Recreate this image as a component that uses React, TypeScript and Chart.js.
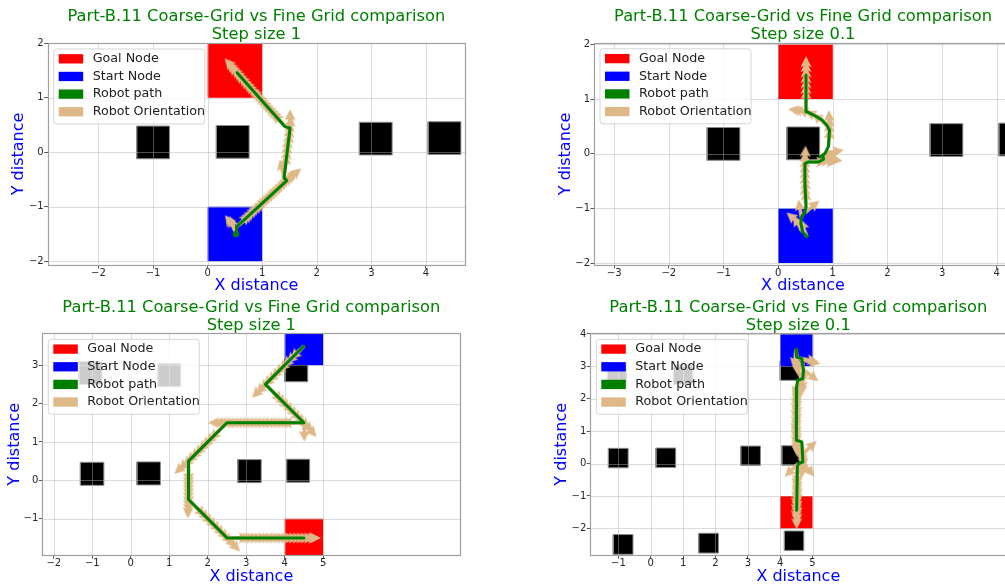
import React, { useEffect, useRef } from 'react';
import { Chart, registerables } from 'chart.js';

Chart.register(...registerables);

const FONT = 'DejaVu Sans';
Chart.defaults.font.family = FONT;

// ---------- text ----------
const TITLE_MAIN = 'Part-B.11 Coarse-Grid vs Fine Grid comparison';
const SUBTITLES = ['Step size 1', 'Step size 0.1', 'Step size 1', 'Step size 0.1'];
const X_LABEL = 'X distance';
const Y_LABEL = 'Y distance';
const LEGEND_LABELS = ['Goal Node', 'Start Node', 'Robot path', 'Robot Orientation'];

// ---------- colours ----------
const GOAL_COLOR = '#ff0000';
const START_COLOR = '#0000ff';
const PATH_COLOR = '#008000';
const ORIENT_COLOR = '#deb887';
const OBSTACLE_COLOR = '#000000';
const LEGEND_COLORS = [GOAL_COLOR, START_COLOR, PATH_COLOR, ORIENT_COLOR];
const TITLE_COLOR = '#008000';
const LABEL_COLOR = '#0000ff';
const GRID_COLOR = 'rgba(176,176,176,0.45)';
const FRAME_COLOR = '#a0a0a0';
const TICK_TEXT_COLOR = '#262626';

// ---------- ticks ----------
const TL_X_TICKS = [-2, -1, 0, 1, 2, 3, 4];
const TL_Y_TICKS = [-2, -1, 0, 1, 2];
const TR_X_TICKS = [-3, -2, -1, 0, 1, 2, 3, 4];
const TR_Y_TICKS = [-2, -1, 0, 1, 2];
const BL_X_TICKS = [-2, -1, 0, 1, 2, 3, 4, 5];
const BL_Y_TICKS = [-1, 0, 1, 2, 3];
const BR_X_TICKS = [-1, 0, 1, 2, 3, 4, 5];
const BR_Y_TICKS = [-2, -1, 0, 1, 2, 3, 4];

// ---------- rectangles [x, y, w, h] ----------
const TOP_GOAL = [0, 1, 1, 1];
const TOP_START = [0, -2, 1, 1];
const TOP_OBSTACLES = [
  [-1.30, -0.12, 0.60, 0.60],
  [0.16, -0.11, 0.60, 0.60],
  [2.78, -0.05, 0.60, 0.60],
  [4.04, -0.04, 0.60, 0.60],
];
const BOTTOM_GOAL = [4, -2, 1, 1];
const BOTTOM_START = [4, 3, 1, 1];
const BOTTOM_OBSTACLES = [
  [-1.35, 2.50, 0.60, 0.60],
  [0.70, 2.44, 0.60, 0.60],
  [-1.31, -0.13, 0.61, 0.60],
  [0.16, -0.12, 0.61, 0.60],
  [2.78, -0.06, 0.61, 0.60],
  [4.05, -0.05, 0.60, 0.60],
  [4.00, 2.57, 0.60, 0.60],
  [-1.16, -2.80, 0.61, 0.61],
  [1.48, -2.76, 0.61, 0.61],
  [4.13, -2.68, 0.60, 0.60],
];

// ---------- robot paths ----------
const TL_PATH_X = [0.52, 0.53, 1.45, 1.40, 1.51, 1.42, 0.54];
const TL_PATH_Y = [-1.50, -1.37, -0.52, -0.47, 0.44, 0.47, 1.46];

const TR_PATH_X = [0.525, 0.45, 0.415, 0.43, 0.49, 0.51, 0.49, 0.49, 0.555, 0.74, 0.83, 0.82, 0.77, 0.86, 0.92, 0.94, 0.89, 0.80, 0.68, 0.585, 0.525, 0.51, 0.51];
const TR_PATH_Y = [-1.52, -1.43, -1.27, -1.15, -1.08, -0.97, -0.54, -0.18, -0.15, -0.15, -0.10, -0.04, -0.06, 0.01, 0.13, 0.43, 0.52, 0.62, 0.69, 0.74, 0.77, 0.98, 1.44];

const BL_PATH_X = [4.5, 3.5, 4.5, 2.5, 1.5, 1.5, 2.5, 4.5];
const BL_PATH_Y = [3.5, 2.5, 1.5, 1.5, 0.5, -0.5, -1.5, -1.5];

const BR_PATH_X = [4.49, 4.51, 4.67, 4.72, 4.70, 4.54, 4.51, 4.49, 4.51, 4.67, 4.70, 4.56, 4.53, 4.51];
const BR_PATH_Y = [3.52, 3.29, 3.24, 2.88, 2.62, 2.57, 2.36, 1.50, 0.72, 0.67, 0.05, 0.00, -0.10, -1.44];

// ---------- robot orientation arrows [x, y, heading in degrees] ----------
const TL_ARROWS = [
  [0.52, -1.50, 110], [0.52, -1.44, 125],
  [0.53, -1.37, 43], [0.58, -1.33, 43], [0.62, -1.29, 43], [0.67, -1.24, 43], [0.71, -1.20, 43], [0.76, -1.16, 43],
  [0.80, -1.12, 43], [0.85, -1.07, 43], [0.90, -1.03, 43], [0.94, -0.99, 43], [0.99, -0.95, 43], [1.04, -0.90, 43],
  [1.08, -0.86, 43], [1.13, -0.82, 43], [1.17, -0.78, 43], [1.22, -0.73, 43], [1.26, -0.69, 43], [1.31, -0.65, 43],
  [1.36, -0.61, 43], [1.40, -0.56, 43], [1.45, -0.52, 40],
  [1.40, -0.47, 103], [1.41, -0.37, 83], [1.42, -0.27, 83], [1.43, -0.17, 83], [1.44, -0.07, 83], [1.46, 0.03, 83],
  [1.47, 0.13, 83], [1.48, 0.23, 83], [1.49, 0.33, 83], [1.51, 0.44, 90],
  [1.42, 0.47, 132], [1.38, 0.52, 132], [1.33, 0.57, 132], [1.29, 0.62, 132], [1.24, 0.67, 132], [1.20, 0.72, 132],
  [1.15, 0.77, 132], [1.11, 0.82, 132], [1.06, 0.87, 132], [1.02, 0.92, 132], [0.98, 0.96, 132], [0.93, 1.01, 132],
  [0.89, 1.06, 132], [0.84, 1.11, 132], [0.80, 1.16, 132], [0.75, 1.21, 132], [0.71, 1.26, 132], [0.67, 1.31, 132],
  [0.62, 1.36, 132], [0.58, 1.41, 132], [0.54, 1.46, 131],
];

const TR_ARROWS = [
  [0.525, -1.52, 110], [0.45, -1.43, 120], [0.42, -1.30, 140], [0.43, -1.18, 100], [0.49, -1.08, 40],
  [0.51, -1.00, 90], [0.50, -0.90, 92], [0.50, -0.80, 90], [0.49, -0.70, 90], [0.49, -0.60, 90],
  [0.49, -0.50, 90], [0.49, -0.40, 90], [0.49, -0.30, 90], [0.49, -0.20, 88],
  [0.555, -0.15, 0], [0.65, -0.15, 5], [0.74, -0.15, 0], [0.83, -0.10, -5], [0.82, -0.04, -15], [0.77, -0.06, 15],
  [0.86, 0.01, 10], [0.92, 0.13, 85], [0.93, 0.25, 88], [0.94, 0.35, 90], [0.94, 0.45, 92],
  [0.89, 0.52, 140], [0.80, 0.62, 150], [0.68, 0.69, 158], [0.585, 0.74, 165], [0.525, 0.77, 172],
  [0.51, 0.85, 90], [0.51, 0.95, 90], [0.51, 1.05, 90], [0.51, 1.15, 90], [0.51, 1.25, 90], [0.51, 1.35, 90], [0.51, 1.44, 90],
];

const BL_ARROWS = [
  [4.5, 3.5, 225], [4.4, 3.4, 225], [4.3, 3.3, 225], [4.2, 3.2, 225], [4.1, 3.1, 225], [4.0, 3.0, 225],
  [3.9, 2.9, 225], [3.8, 2.8, 225], [3.7, 2.7, 225], [3.6, 2.6, 225], [3.5, 2.5, 225],
  [3.6, 2.4, 315], [3.7, 2.3, 315], [3.8, 2.2, 315], [3.9, 2.1, 315], [4.0, 2.0, 315],
  [4.1, 1.9, 315], [4.2, 1.8, 315], [4.3, 1.7, 315], [4.4, 1.6, 315], [4.5, 1.5, 312], [4.5, 1.5, 272],
  [4.4, 1.5, 180], [4.3, 1.5, 180], [4.2, 1.5, 180], [4.1, 1.5, 180], [4.0, 1.5, 180], [3.9, 1.5, 180], [3.8, 1.5, 180],
  [3.7, 1.5, 180], [3.6, 1.5, 180], [3.5, 1.5, 180], [3.4, 1.5, 180], [3.3, 1.5, 180], [3.2, 1.5, 180], [3.1, 1.5, 180],
  [3.0, 1.5, 180], [2.9, 1.5, 180], [2.8, 1.5, 180], [2.7, 1.5, 180], [2.6, 1.5, 180], [2.5, 1.5, 180],
  [2.4, 1.4, 225], [2.3, 1.3, 225], [2.2, 1.2, 225], [2.1, 1.1, 225], [2.0, 1.0, 225],
  [1.9, 0.9, 225], [1.8, 0.8, 225], [1.7, 0.7, 225], [1.6, 0.6, 225], [1.5, 0.5, 222],
  [1.5, 0.4, 270], [1.5, 0.3, 270], [1.5, 0.2, 270], [1.5, 0.1, 270], [1.5, 0.0, 270],
  [1.5, -0.1, 270], [1.5, -0.2, 270], [1.5, -0.3, 270], [1.5, -0.4, 270], [1.5, -0.5, 268],
  [1.6, -0.6, 315], [1.7, -0.7, 315], [1.8, -0.8, 315], [1.9, -0.9, 315], [2.0, -1.0, 315],
  [2.1, -1.1, 315], [2.2, -1.2, 315], [2.3, -1.3, 315], [2.4, -1.4, 315], [2.5, -1.5, 314],
  [2.6, -1.5, 0], [2.7, -1.5, 0], [2.8, -1.5, 0], [2.9, -1.5, 0], [3.0, -1.5, 0], [3.1, -1.5, 0], [3.2, -1.5, 0],
  [3.3, -1.5, 0], [3.4, -1.5, 0], [3.5, -1.5, 0], [3.6, -1.5, 0], [3.7, -1.5, 0], [3.8, -1.5, 0], [3.9, -1.5, 0],
  [4.0, -1.5, 0], [4.1, -1.5, 0], [4.2, -1.5, 0], [4.3, -1.5, 0], [4.4, -1.5, 0], [4.45, -1.5, 0],
];

const BR_ARROWS = [
  [4.49, 3.52, 265], [4.50, 3.45, 270], [4.51, 3.38, 270], [4.51, 3.29, 275], [4.60, 3.25, -10], [4.67, 3.20, -12],
  [4.70, 3.10, 270], [4.71, 3.00, 268], [4.72, 2.90, -38], [4.71, 2.78, 265], [4.70, 2.66, 265], [4.60, 2.60, 250],
  [4.53, 2.50, 270], [4.51, 2.40, 272], [4.51, 2.30, 268], [4.50, 2.20, 272], [4.50, 2.10, 268], [4.50, 2.00, 272],
  [4.50, 1.90, 268], [4.50, 1.80, 272], [4.50, 1.70, 268], [4.49, 1.60, 272], [4.49, 1.50, 268], [4.49, 1.40, 272],
  [4.50, 1.30, 268], [4.50, 1.20, 272], [4.50, 1.10, 268], [4.50, 1.00, 272], [4.51, 0.90, 268], [4.51, 0.80, 272],
  [4.55, 0.72, 280], [4.67, 0.62, 270], [4.68, 0.52, 272], [4.69, 0.42, 275], [4.70, 0.30, 43], [4.70, 0.22, 268],
  [4.70, 0.12, 265], [4.68, 0.05, -50], [4.56, 0.00, 224], [4.53, -0.10, 270],
  [4.52, -0.20, 268], [4.52, -0.30, 272], [4.52, -0.40, 268], [4.52, -0.50, 272], [4.52, -0.60, 268], [4.52, -0.70, 272],
  [4.51, -0.80, 268], [4.51, -0.90, 272], [4.51, -1.00, 268], [4.51, -1.10, 272], [4.51, -1.20, 268], [4.51, -1.30, 272],
  [4.51, -1.44, 270],
];

// ---------- layout of the four subplots ----------
type Spec = {
  left: number; top: number; width: number; height: number;
  pad: { left: number; right: number; top: number; bottom: number };
  yAxisWidth: number; xAxisHeight: number; titleBottomPad: number;
  xMin: number; xMax: number; yMin: number; yMax: number;
  xTicks: number[]; yTicks: number[]; subtitle: string;
  goal: number[]; start: number[]; obstacles: number[][];
  pathX: number[]; pathY: number[]; arrows: number[][]; startDot: boolean;
};

const SPECS: Spec[] = [
  {
    left: 0, top: 0, width: 500, height: 300,
    pad: { left: 9.4, right: 35, top: 7.65, bottom: 5 }, yAxisWidth: 38.3, xAxisHeight: 30, titleBottomPad: -1.25,
    xMin: -2.93, xMax: 4.715, yMin: -2.07, yMax: 2.005, xTicks: TL_X_TICKS, yTicks: TL_Y_TICKS, subtitle: SUBTITLES[0],
    goal: TOP_GOAL, start: TOP_START, obstacles: TOP_OBSTACLES, pathX: TL_PATH_X, pathY: TL_PATH_Y, arrows: TL_ARROWS, startDot: true,
  },
  {
    left: 505, top: 0, width: 530, height: 300,
    pad: { left: 51.4, right: 23, top: 7.65, bottom: 5 }, yAxisWidth: 37.6, xAxisHeight: 30, titleBottomPad: -1.45,
    xMin: -3.37, xMax: 4.28, yMin: -2.036, yMax: 2.03, xTicks: TR_X_TICKS, yTicks: TR_Y_TICKS, subtitle: SUBTITLES[1],
    goal: TOP_GOAL, start: TOP_START, obstacles: TOP_OBSTACLES, pathX: TR_PATH_X, pathY: TR_PATH_Y, arrows: TR_ARROWS, startDot: false,
  },
  {
    left: 0, top: 292, width: 500, height: 296,
    pad: { left: 4.9, right: 39.7, top: 6.65, bottom: 1.9 }, yAxisWidth: 37.4, xAxisHeight: 30.8, titleBottomPad: -1.95,
    xMin: -2.30, xMax: 8.565, yMin: -1.954, yMax: 3.832, xTicks: BL_X_TICKS, yTicks: BL_Y_TICKS, subtitle: SUBTITLES[2],
    goal: BOTTOM_GOAL, start: BOTTOM_START, obstacles: BOTTOM_OBSTACLES, pathX: BL_PATH_X, pathY: BL_PATH_Y, arrows: BL_ARROWS, startDot: false,
  },
  {
    left: 505, top: 292, width: 530, height: 296,
    pad: { left: 47.4, right: 28.7, top: 6.65, bottom: 1.9 }, yAxisWidth: 37.9, xAxisHeight: 30.8, titleBottomPad: -1.95,
    xMin: -1.87, xMax: 10.99, yMin: -2.83, yMax: 4.02, xTicks: BR_X_TICKS, yTicks: BR_Y_TICKS, subtitle: SUBTITLES[3],
    goal: BOTTOM_GOAL, start: BOTTOM_START, obstacles: BOTTOM_OBSTACLES, pathX: BR_PATH_X, pathY: BR_PATH_Y, arrows: BR_ARROWS, startDot: false,
  },
];

// ---------- helpers ----------
function makeArrowSprite(): HTMLCanvasElement {
  const L = 19, hl = 11, hw = 11, sw = 3.5;
  const c = document.createElement('canvas');
  c.width = 2 * L;
  c.height = hw + 3;
  const g = c.getContext('2d') as CanvasRenderingContext2D;
  const cy = c.height / 2;
  g.fillStyle = ORIENT_COLOR;
  g.beginPath();
  g.moveTo(L, cy - sw / 2);
  g.lineTo(2 * L - hl * 0.88, cy - sw / 2);
  g.lineTo(2 * L - hl, cy - hw / 2);
  g.lineTo(2 * L, cy);
  g.lineTo(2 * L - hl, cy + hw / 2);
  g.lineTo(2 * L - hl * 0.88, cy + sw / 2);
  g.lineTo(L, cy + sw / 2);
  g.closePath();
  g.fill();
  return c;
}

function rectPoints(r: number[]) {
  const [x, y, w, h] = r;
  return [{ x, y }, { x: x + w, y }, { x: x + w, y: y + h }, { x, y: y + h }, { x, y }];
}

function rectDataset(r: number[], color: string, order: number, outlined: boolean, label: string) {
  return {
    type: 'line', label, data: rectPoints(r), fill: 'shape', backgroundColor: color,
    borderColor: outlined ? '#8a8a8a' : color, borderWidth: outlined ? 1 : 0,
    pointRadius: 0, tension: 0, order, showLine: true,
  };
}

const fmt = (v: number) => (v < 0 ? '\u2212' + String(-v) : String(v));

const overlayPlugin = {
  id: 'overlay',
  beforeDatasetDraw(chart: any, args: any) {
    const ds = chart.data.datasets[args.index];
    if (!ds || !ds.isArrows) return;
    const { ctx, chartArea: a, scales } = chart;
    ctx.save();
    ctx.beginPath();
    ctx.rect(a.left, a.top, a.right - a.left, a.bottom - a.top);
    ctx.clip();
    ctx.strokeStyle = GRID_COLOR;
    ctx.lineWidth = 1;
    for (const t of scales.x.ticks) {
      const px = Math.round(scales.x.getPixelForValue(t.value)) + 0.5;
      ctx.beginPath(); ctx.moveTo(px, a.top); ctx.lineTo(px, a.bottom); ctx.stroke();
    }
    for (const t of scales.y.ticks) {
      const py = Math.round(scales.y.getPixelForValue(t.value)) + 0.5;
      ctx.beginPath(); ctx.moveTo(a.left, py); ctx.lineTo(a.right, py); ctx.stroke();
    }
    ctx.restore();
  },
  afterDatasetsDraw(chart: any) {
    const { ctx, chartArea: a } = chart;
    ctx.save();
    // frame (spines)
    ctx.strokeStyle = FRAME_COLOR;
    ctx.lineWidth = 1.2;
    ctx.strokeRect(Math.round(a.left) + 0.5, Math.round(a.top) + 0.5, Math.round(a.right - a.left), Math.round(a.bottom - a.top));
    // legend
    const lx = a.left + 6, ly = a.top + 6, w = 151, h = 75, r = 3;
    ctx.beginPath();
    ctx.moveTo(lx + r, ly);
    ctx.lineTo(lx + w - r, ly); ctx.quadraticCurveTo(lx + w, ly, lx + w, ly + r);
    ctx.lineTo(lx + w, ly + h - r); ctx.quadraticCurveTo(lx + w, ly + h, lx + w - r, ly + h);
    ctx.lineTo(lx + r, ly + h); ctx.quadraticCurveTo(lx, ly + h, lx, ly + h - r);
    ctx.lineTo(lx, ly + r); ctx.quadraticCurveTo(lx, ly, lx + r, ly);
    ctx.closePath();
    ctx.fillStyle = 'rgba(255,255,255,0.8)';
    ctx.fill();
    ctx.strokeStyle = 'rgba(204,204,204,0.8)';
    ctx.lineWidth = 1;
    ctx.stroke();
    ctx.font = `12.7px "${FONT}"`;
    ctx.textBaseline = 'middle';
    ctx.textAlign = 'left';
    LEGEND_LABELS.forEach((lab, i) => {
      const cy = ly + 9.8 + i * 17.65;
      ctx.fillStyle = LEGEND_COLORS[i];
      ctx.fillRect(lx + 5, cy - 4.65, 24.5, 9.3);
      ctx.fillStyle = '#222222';
      ctx.fillText(lab, lx + 39, cy);
    });
    ctx.restore();
  },
};

function buildConfig(s: Spec, sprite: HTMLCanvasElement): any {
  const datasets: any[] = [];
  s.obstacles.forEach((r, i) => datasets.push(rectDataset(r, OBSTACLE_COLOR, 3, true, 'Obstacle ' + (i + 1))));
  datasets.push(rectDataset(s.goal, GOAL_COLOR, 2, false, LEGEND_LABELS[0]));
  datasets.push(rectDataset(s.start, START_COLOR, 2, false, LEGEND_LABELS[1]));
  datasets.push({
    type: 'line', label: LEGEND_LABELS[3], isArrows: true,
    data: s.arrows.map((a) => ({ x: a[0], y: a[1] })),
    showLine: false, pointStyle: sprite, pointRadius: 1, pointHoverRadius: 1,
    pointRotation: s.arrows.map((a) => -a[2]), order: 1,
  });
  datasets.push({
    type: 'line', label: LEGEND_LABELS[2],
    data: s.pathX.map((x, i) => ({ x, y: s.pathY[i] })),
    borderColor: PATH_COLOR, borderWidth: 3, fill: false, tension: 0,
    borderJoinStyle: 'round', borderCapStyle: 'round',
    pointRadius: s.pathX.map((_, i) => (s.startDot && i === 0 ? 3.2 : 0)),
    pointBackgroundColor: PATH_COLOR, pointBorderWidth: 0, order: 0,
  });

  const tickFont = { family: FONT, size: 10, lineHeight: 1 };
  const titleFont = { family: FONT, size: 16, lineHeight: 1.2, weight: 'normal' };
  const grid = { drawOnChartArea: false, drawTicks: true, tickLength: 3.5, tickColor: '#555555', tickWidth: 1 };

  return {
    type: 'line',
    data: { datasets },
    plugins: [overlayPlugin],
    options: {
      responsive: false,
      maintainAspectRatio: false,
      animation: false,
      devicePixelRatio: 1,
      events: [],
      layout: { padding: s.pad },
      plugins: {
        legend: { display: false },
        tooltip: { enabled: false },
        title: {
          display: true, text: [TITLE_MAIN, s.subtitle], color: TITLE_COLOR,
          font: { family: FONT, size: 16.3, lineHeight: 1.123, weight: 'normal' },
          padding: { top: 0, bottom: s.titleBottomPad }, fullSize: false, position: 'top', align: 'center',
        },
      },
      scales: {
        x: {
          type: 'linear', position: 'bottom', min: s.xMin, max: s.xMax,
          afterBuildTicks: (sc: any) => { sc.ticks = s.xTicks.map((v) => ({ value: v })); },
          afterFit: (sc: any) => { sc.height = s.xAxisHeight; },
          ticks: { autoSkip: false, maxRotation: 0, minRotation: 0, padding: -0.5, color: TICK_TEXT_COLOR, font: tickFont, callback: (v: number) => fmt(v) },
          grid, border: { display: false },
          title: { display: true, text: X_LABEL, color: LABEL_COLOR, font: titleFont, padding: 0 },
        },
        y: {
          type: 'linear', position: 'left', min: s.yMin, max: s.yMax,
          afterBuildTicks: (sc: any) => { sc.ticks = s.yTicks.map((v) => ({ value: v })); },
          afterFit: (sc: any) => { sc.width = s.yAxisWidth; },
          ticks: { autoSkip: false, padding: 0.5, color: TICK_TEXT_COLOR, font: tickFont, callback: (v: number) => fmt(v) },
          grid, border: { display: false },
          title: { display: true, text: Y_LABEL, color: LABEL_COLOR, font: titleFont, padding: 0 },
        },
      },
    },
  };
}

function Plot({ spec }: { spec: Spec }) {
  const ref = useRef<HTMLCanvasElement>(null);
  useEffect(() => {
    const sprite = makeArrowSprite();
    const chart = new Chart(ref.current as HTMLCanvasElement, buildConfig(spec, sprite));
    return () => chart.destroy();
  }, [spec]);
  return (
    <canvas
      ref={ref}
      width={spec.width}
      height={spec.height}
      style={{ position: 'absolute', left: spec.left, top: spec.top, width: spec.width, height: spec.height }}
    />
  );
}

export default function App() {
  return (
    <div style={{ position: 'absolute', left: 0, top: 0, width: 1005, height: 585, overflow: 'hidden', background: '#ffffff' }}>
      {SPECS.map((s, i) => (
        <Plot key={i} spec={s} />
      ))}
    </div>
  );
}
